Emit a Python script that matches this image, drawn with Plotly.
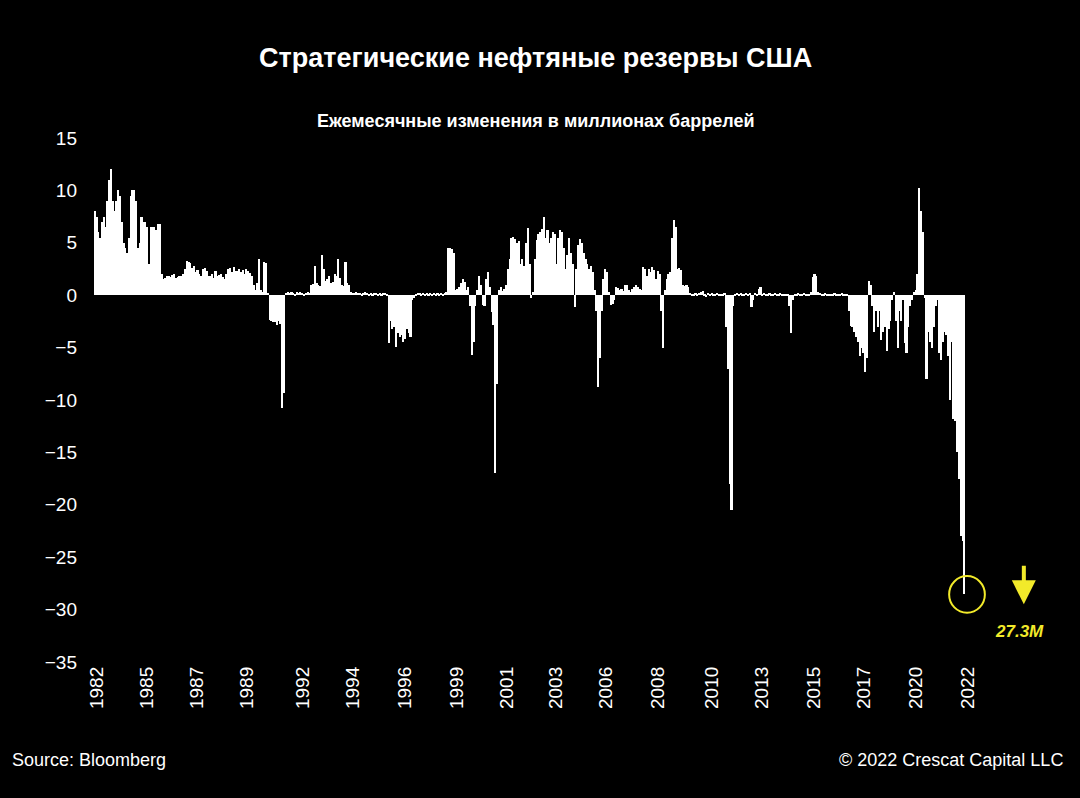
import pandas as pd
import plotly.graph_objects as go

# monthly change, million barrels, Jan 1982 .. Mar 2022
y1982 = [8, 7.5, 6, 5.5, 7, 7.5, 6.5, 9, 11, 12, 9, 8]
y1983 = [9, 10, 9.5, 7, 5, 4.5, 4, 5.5, 9.5, 10, 10, 9]
y1984 = [4.5, 5, 7.5, 7, 7, 6.5, 3, 6.5, 6.5, 6.5, 6.2, 6.8]
y1985 = [6.8, 2, 1.5, 1.6, 1.8, 1.8, 1.7, 1.9, 2, 1.6, 1.7, 1.8]
y1986 = [1.8, 2, 2.5, 3.3, 3.2, 3.1, 2.6, 2.8, 2.2, 2.4, 2.0, 1.8]
y1987 = [2.5, 2.6, 2.3, 1.8, 1.8, 2.0, 1.6, 2.3, 1.8, 1.9, 2.0, 1.7]
y1988 = [1.5, 2.0, 2.5, 2.6, 2.2, 2.7, 2.3, 2.3, 2.5, 2.2, 2.4, 2.0]
y1989 = [2.5, 2.3, 2.1, 1.8, 1.0, 0.5, 1.2, 3.5, 0.5, 0.3, 3.2, 3.1]
y1990 = [0.2, -2.4, -2.5, -2.6, -2.6, -2.8, -2.5, -2.7, -10.8, -9.3, 0.2, 0.3]
y1991 = [0.2, 0.3, 0.2, 0.1, 0.3, 0.2, 0.3, 0.2, 0.1, 0.2, 0.3, 0.2]
y1992 = [1.0, 1.1, 2.8, 1.2, 1.0, 0.9, 3.8, 2.5, 1.4, 1.5, 1.8, 1.2]
y1993 = [1.3, 2.0, 1.8, 3.5, 1.6, 1.0, 0.9, 3.2, 1.2, 1.0, 0.3, 0.2]
y1994 = [0.2, 0.3, 0.2, 0.2, 0.1, 0.2, 0.3, 0.2, 0.1, 0.2, 0.1, 0.2]
y1995 = [0.2, 0.1, 0.2, 0.1, 0.2, 0.2, 0.1, -4.6, -2.5, -3.2, -3.0, -4.9]
y1996 = [-3.6, -4.0, -3.8, -4.5, -4.2, -3.2, -3.6, -4.0, -0.5, -0.3, 0.1, 0.2]
y1997 = [0.2, 0.1, 0.2, 0.1, 0.2, 0.1, 0.2, 0.1, 0.2, 0.1, 0.2, 0.1]
y1998 = [0.2, 0.1, 0.2, 0.3, 4.5, 4.5, 4.4, 4.0, 0.5, 0.6, 0.8, 1.2]
y1999 = [1.5, 1.3, 0.5, 0.8, -1.0, -5.7, -4.5, -1.0, 0.5, 1.8, 1.0, -0.9]
y2000 = [-1.0, 1.5, 2.2, 0.8, -1.6, -2.8, -17.0, -8.5, 0.5, 0.8, 0.4, 0.6]
y2001 = [1.0, 2.5, 3.5, 5.5, 5.6, 5.4, 5.0, 5.2, 3.0, 3.5, 2.8, 5.0]
y2002 = [6.4, 3.0, -0.3, 0.3, 3.5, 5.3, 5.8, 6.0, 6.3, 7.5, 5.5, 6.2]
y2003 = [5.0, 5.5, 6.0, 5.8, 3.0, 5.5, 6.2, 6.0, 4.5, 2.5, 3.8, 5.5]
y2004 = [4.0, 3.0, -1.1, 2.5, 4.8, 5.4, 5.0, 4.0, 3.5, 3.0, 2.5, 2.8]
y2005 = [2.2, 0.5, -1.5, -8.8, -6.0, -1.5, 1.5, 2.5, 2.2, 0.3, -0.9, -0.8]
y2006 = [-0.5, 0.8, 0.7, 0.5, 0.6, 0.4, 1.0, 1.0, 0.5, 0.3, 0.6, 0.8]
y2007 = [1.0, 0.8, 0.6, 0.5, 2.7, 2.5, 1.8, 2.5, 2.2, 2.7, 2.4, 1.5]
y2008 = [2.3, 2.0, -1.5, -5.0, 0.5, 1.5, 2.0, 2.2, 5.5, 7.2, 6.5, 2.5]
y2009 = [2.6, 2.4, 1.0, 0.9, 1.0, 0.8, 0.2, 0.1, 0.1, 0.2, 0.1, 0.2]
y2010 = [0.3, 0.4, 0.1, -0.2, 0.2, 0.1, 0.2, 0.1, 0.1, 0.2, 0.1, 0.1]
y2011 = [0.1, 0.2, -3.0, -7.0, -18.0, -20.5, -1.0, 0.1, 0.2, 0.1, 0.2, 0.1]
y2012 = [0.1, 0.2, 0.1, 0.2, -1.1, -0.5, 0.2, 0.1, 0.6, 0.8, 0.1, 0.2]
y2013 = [0.1, 0.1, 0.2, 0.1, 0.1, 0.2, 0.1, 0.1, 0.2, 0.1, 0.1, 0.1]
y2014 = [0.1, -1.0, -3.6, -0.5, 0.1, 0.1, 0.2, 0.1, 0.1, 0.2, 0.1, 0.1]
y2015 = [0.1, 0.3, 1.7, 2.0, 1.8, 0.3, 0.2, 0.1, 0.1, 0.2, 0.1, 0.1]
y2016 = [0.1, 0.1, 0.2, 0.1, 0.1, 0.1, 0.2, 0.1, 0.1, 0.1, -1.5, -2.9]
y2017 = [-3.0, -3.5, -4.0, -4.5, -5.8, -5.0, -5.5, -7.3, -6.0, 1.4, 1.0, -1.0]
y2018 = [-3.5, -1.5, -3.0, -1.5, -4.3, -3.5, -3.0, -5.3, -3.2, -2.5, -0.5, 0.3]
y2019 = [-2.5, -5.0, -1.5, -2.5, -0.5, -4.6, -5.5, -3.0, -1.0, -0.5, 0.3, 0.5]
y2020 = [2.0, 10.2, 8.0, 6.0, -0.3, -8.0, -3.5, -4.5, -5.0, -3.0, -1.0, -0.5]
y2021 = [-5.5, -6.2, -4.5, -3.5, -3.8, -5.8, -10.0, -4.5, -11.8, -12.0, -15.0, -17.5]
y2022 = [-23.0, -23.5, -28.5]

years = [y1982, y1983, y1984, y1985, y1986, y1987, y1988, y1989, y1990, y1991,
         y1992, y1993, y1994, y1995, y1996, y1997, y1998, y1999, y2000, y2001,
         y2002, y2003, y2004, y2005, y2006, y2007, y2008, y2009, y2010, y2011,
         y2012, y2013, y2014, y2015, y2016, y2017, y2018, y2019, y2020, y2021, y2022]
values = [v for yr in years for v in yr]
dates = pd.date_range("1982-01-01", periods=len(values), freq="MS")

tick_text = ["1982", "1985", "1987", "1989", "1992", "1994", "1996", "1999", "2001",
             "2003", "2006", "2008", "2010", "2013", "2015", "2017", "2020", "2022"]
tick_pos = [1982.1, 1984.4, 1986.7, 1989.0, 1991.6, 1993.9, 1996.3, 1998.7, 2001.0,
            2003.3, 2005.6, 2008.0, 2010.5, 2012.8, 2015.2, 2017.5, 2019.9, 2022.3]


def yr_to_date(y):
    return pd.Timestamp("1982-01-01") + pd.Timedelta(days=(y - 1982) * 365.25)


fig = go.Figure(go.Bar(x=dates, y=values, marker=dict(color="white", line_width=0)))

font = "Liberation Sans"
fig.add_shape(type="circle", xref="x", yref="y",
              x0=yr_to_date(2021.45), x1=yr_to_date(2023.1), y0=-30.3, y1=-26.8,
              line=dict(color="#f2ea2a", width=2))
fig.add_annotation(x=yr_to_date(2024.9), y=-29.5, ax=0, ay=-40, text="",
                   showarrow=True, arrowhead=2, arrowsize=1.2, arrowwidth=4,
                   arrowcolor="#f2ea2a")
fig.add_annotation(x=yr_to_date(2024.7), y=-32.1, text="<b><i>27.3M</i></b>",
                   showarrow=False, font=dict(color="#f2ea2a", size=17, family=font))

fig.update_layout(
    width=1080, height=798, paper_bgcolor="black", plot_bgcolor="black",
    margin=dict(l=90, r=20, t=138, b=136),
    bargap=0, showlegend=False,
    font=dict(family=font, color="white"),
    title=dict(text="<b>Стратегические нефтяные резервы США</b>", x=0.496, y=0.94,
               xanchor="center", font=dict(size=27, color="white", family=font)),
    xaxis=dict(range=[yr_to_date(1981.77), yr_to_date(2026.57)],
               tickvals=[yr_to_date(t) for t in tick_pos], ticktext=tick_text,
               tickangle=-90, tickfont=dict(size=19, color="white"),
               showgrid=False, zeroline=False, showline=False, ticks=""),
    yaxis=dict(range=[-35, 15], tickvals=list(range(-35, 20, 5)),
               tickfont=dict(size=19, color="white"), showgrid=False,
               zeroline=False, showline=False, ticks="", ticklabelstandoff=12),
)
fig.add_annotation(xref="paper", yref="paper", x=0.46, y=1.055, showarrow=False,
                   text="<b>Ежемесячные изменения в миллионах баррелей</b>",
                   font=dict(size=18, color="white", family=font))
fig.add_annotation(xref="paper", yref="paper", x=-0.082, y=-0.21, xanchor="left",
                   showarrow=False, text="Source: Bloomberg",
                   font=dict(size=18, color="white", family=font))
fig.add_annotation(xref="paper", yref="paper", x=1.005, y=-0.21, xanchor="right",
                   showarrow=False, text="© 2022 Crescat Capital LLC",
                   font=dict(size=18, color="white", family=font))

fig.write_html("out.html", config={"displayModeBar": False},
               post_script="document.body.style.margin='0';"
               "document.body.style.background='black';")
